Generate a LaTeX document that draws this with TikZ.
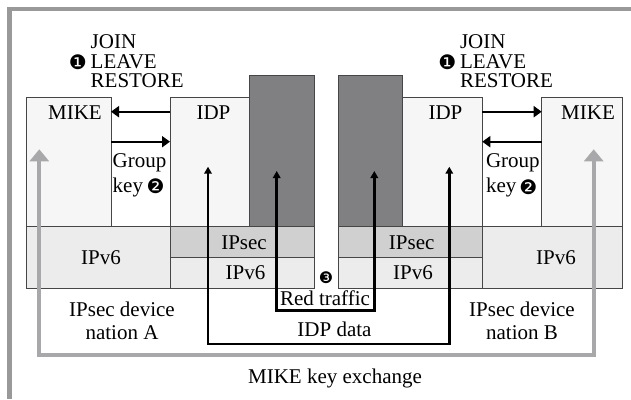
\documentclass[tikz,border=0pt]{standalone}
\usepackage{fontspec}
\setmainfont{Liberation Serif}
\newfontfamily\dingfont{DejaVu Sans}
\usetikzlibrary{arrows.meta}
\definecolor{framegrey}{RGB}{153,153,153}
\definecolor{arrowgrey}{RGB}{168,168,170}
\definecolor{boxline}{RGB}{70,70,70}
\definecolor{lightfill}{RGB}{246,246,246}
\definecolor{ipvfill}{RGB}{236,236,236}
\definecolor{ipsecfill}{RGB}{208,208,208}
\definecolor{darkfill}{RGB}{128,128,131}
\tikzset{
  every node/.style={font=\fontsize{21}{24}\selectfont, inner sep=0pt, outer sep=0pt},
  cell/.style={draw=boxline, line width=0.9pt, anchor=north west},
  lab/.style={anchor=base},
  labl/.style={anchor=base west},
  num/.style={font=\dingfont\fontsize{20}{20}\selectfont},
  blackarrow/.style={line width=2.2pt, -{Triangle[length=8pt,width=11pt]}},
  idpline/.style={line width=2.4pt, {Triangle[length=7pt,width=7.5pt]}-{Triangle[length=7pt,width=7.5pt]}},
  redline/.style={line width=3pt, {Triangle[length=7pt,width=7.5pt]}-{Triangle[length=7pt,width=7.5pt]}},
  greyline/.style={draw=arrowgrey, line width=4pt, {Triangle[length=12pt,width=19pt]}-{Triangle[length=12pt,width=19pt]}},
}
\begin{document}
\begin{tikzpicture}[x=1pt,y=-1pt]
\useasboundingbox (0,0) rectangle (631,399);
\fill[white] (0,0) rectangle (631,399);
% frame
\draw[framegrey, line width=4.3pt] (631,9) -- (9.5,9) -- (9.5,399);

% left device
\node[cell, fill=lightfill, minimum width=85pt, minimum height=129pt] (mikeA) at (26,97.7) {};
\node[cell, fill=lightfill, minimum width=79.3pt, minimum height=129pt] (idpA) at (170,97.7) {};
\node[cell, fill=darkfill, minimum width=64.7pt, minimum height=151pt] (darkA) at (249.3,75.7) {};
\node[cell, fill=ipvfill, minimum width=144pt, minimum height=61.6pt] (ipvA) at (26,226.7) {};
\node[cell, fill=ipsecfill, minimum width=144pt, minimum height=31pt] (ipsecA) at (170,226.7) {};
\node[cell, fill=ipvfill, minimum width=144pt, minimum height=30.6pt] (ipvsA) at (170,257.7) {};

% right device
\node[cell, fill=lightfill, minimum width=81pt, minimum height=129pt] (mikeB) at (541.7,97.7) {};
\node[cell, fill=lightfill, minimum width=79.6pt, minimum height=129pt] (idpB) at (402.7,97.7) {};
\node[cell, fill=darkfill, minimum width=64.4pt, minimum height=151pt] (darkB) at (338.3,75.7) {};
\node[cell, fill=ipvfill, minimum width=140.4pt, minimum height=61.6pt] (ipvB) at (482.3,226.7) {};
\node[cell, fill=ipsecfill, minimum width=144pt, minimum height=31pt] (ipsecB) at (338.3,226.7) {};
\node[cell, fill=ipvfill, minimum width=144pt, minimum height=30.6pt] (ipvsB) at (338.3,257.7) {};

% MIKE <-> IDP arrows
\draw[blackarrow] (idpA.west |- 0,111.7) -- (mikeA.east |- 0,111.7);
\draw[blackarrow] (mikeA.east |- 0,141.7) -- (idpA.west |- 0,141.7);
\draw[blackarrow] (idpB.east |- 0,111.7) -- (mikeB.west |- 0,111.7);
\draw[blackarrow] (mikeB.west |- 0,141.7) -- (idpB.east |- 0,141.7);

% loops
\coordinate (idpTipA) at (208,166.7);
\coordinate (idpTipB) at (449.3,166.7);
\coordinate (redTipA) at (276.7,171);
\coordinate (redTipB) at (374.3,171);
\coordinate (mkTipA) at (39.3,149.3);
\coordinate (mkTipB) at (593.7,149.3);
\draw[idpline] (idpTipA) -- (208,344) -- (449.3,344) -- (idpTipB);
\draw[redline] (redTipA) -- (276.7,310) -- (374.3,310) -- (redTipB);
\draw[greyline] (mkTipA) -- (39.3,355) -- (593.7,355) -- (mkTipB);

% labels
\node[lab] (tMikeA) at (75,119.3) {MIKE};
\node[lab] (tMikeB) at (588,119.3) {MIKE};
\node[lab] (tIdpA) at (213.5,119.3) {IDP};
\node[lab] (tIdpB) at (445.5,119.3) {IDP};

\node[labl] (j1A) at (90.7,48.3) {JOIN};
\node[labl] (j2A) at (90.7,68.3) {LEAVE};
\node[labl] (j3A) at (90.7,87.3) {RESTORE};
\node[num] (n1A) at (77.8,61.8) {❶};
\node[labl] (j1B) at (460,48.3) {JOIN};
\node[labl] (j2B) at (460,68.3) {LEAVE};
\node[labl] (j3B) at (460,87.3) {RESTORE};
\node[num] (n1B) at (447.3,61.8) {❶};

\node[labl] (gA) at (112.7,167.7) {Group};
\node[labl] (kA) at (112.7,192.7) {key};
\node[num] (n2A) at (155.5,186.7) {❷};
\node[labl] (gB) at (486,167.7) {Group};
\node[labl] (kB) at (486,192.7) {key};
\node[num] (n2B) at (528.3,187) {❷};

\node[lab] (v6A) at (101,264) {IPv6};
\node[lab] (v6B) at (556,264) {IPv6};
\node[lab] (secA) at (244,249.3) {IPsec};
\node[lab] (v6sA) at (245.5,279.3) {IPv6};
\node[lab] (secB) at (411.7,249.3) {IPsec};
\node[lab] (v6sB) at (413,279.3) {IPv6};

\node[lab] (devA1) at (122,316) {IPsec device};
\node[lab] (devA2) at (122,339.3) {nation A};
\node[lab] (devB1) at (522,316) {IPsec device};
\node[lab] (devB2) at (522,339.3) {nation B};

\node[num, font=\dingfont\fontsize{16}{16}\selectfont] (n3) at (326,277.5) {❸};
\node[lab] (red) at (325,305.5) {Red traffic};
\node[lab] (idpd) at (334.5,336.7) {IDP data};
\node[lab] (mke) at (335,383.3) {MIKE key exchange};
\end{tikzpicture}
\end{document}
